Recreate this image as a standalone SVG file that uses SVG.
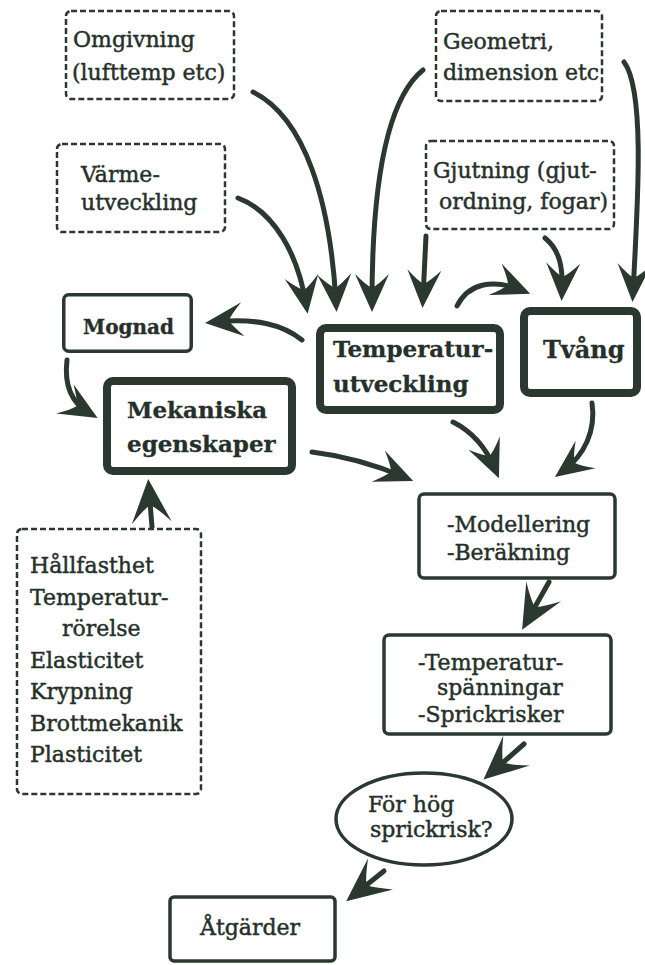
<svg xmlns="http://www.w3.org/2000/svg" width="645" height="965" viewBox="0 0 645 965">
<defs>
<style>
.t{font-family:"DejaVu Serif","Liberation Serif",serif;fill:#26302a;font-size:22px;stroke:#26302a;stroke-width:0.45}
.b{font-weight:bold;stroke-width:0.3}
.dash{fill:#fff;stroke:#2b3830;stroke-width:2.5;stroke-dasharray:6 3}
.thin{fill:#fff;stroke:#2b3830;stroke-width:3.5}
.thick{fill:#fff;stroke:#2b3830;stroke-width:8}
.c{fill:none;stroke:#2b3830;stroke-width:5;stroke-linecap:round;marker-end:url(#ah)}
.c2{fill:none;stroke:#2b3830;stroke-width:5;stroke-linecap:round;marker-end:url(#ah2)}
</style>
<marker id="ah" viewBox="-32 -20 44 40" markerWidth="44" markerHeight="40" refX="0" refY="0" markerUnits="userSpaceOnUse" orient="auto">
<path d="M10,0 L-28,-17 Q-17,-6 -14,0 Q-17,6 -28,17 Z" fill="#2b3830"/>
</marker>
<marker id="ah2" viewBox="-38 -24 50 48" markerWidth="50" markerHeight="48" refX="0" refY="0" markerUnits="userSpaceOnUse" orient="auto">
<path d="M10,0 L-34,-20 Q-20,-7 -16,0 Q-20,7 -34,20 Z" fill="#2b3830"/>
</marker>
</defs>
<rect width="645" height="965" fill="#fff"/>
<g id="connectors">
<path class="c" d="M253,92 C305,118 330,200 336,302"/>
<path class="c" d="M238,198 C275,212 298,255 306,304"/>
<path class="c" d="M423,70 C392,95 372,165 372,302"/>
<path class="c" d="M426,236 L423,298"/>
<path class="c" d="M457,306 C468,284 492,278 521,290"/>
<path class="c" d="M545,238 C560,250 563,268 562,291"/>
<path class="c" d="M624,62 C645,90 638,200 633,292"/>
<path class="c" d="M302,340 C282,324 255,318 215,322"/>
<path class="c" d="M67,360 C64,385 72,403 89,413"/>
<path class="c" d="M453,422 C473,432 487,450 495,469"/>
<path class="c" d="M592,403 C596,430 585,455 563,471"/>
<path class="c" d="M312,452 C345,456 378,466 404,477"/>
<path class="c2" d="M152,527 L149,489"/>
<path class="c2" d="M549,582 L527,621"/>
<path class="c2" d="M524,744 L491,773"/>
<path class="c2" d="M384,871 L354,895"/>
</g>
<g id="omgivning"><rect class="dash" x="66" y="11" width="168" height="88" rx="5"/>
<text class="t" x="73" y="47">Omgivning</text><text class="t" x="72" y="80">(lufttemp etc)</text></g>
<g id="varme"><rect class="dash" x="57" y="144" width="168" height="88" rx="5"/>
<text class="t" x="81" y="182">Värme-</text><text class="t" x="81" y="210">utveckling</text></g>
<g id="geometri"><rect class="dash" x="436" y="11" width="166" height="90" rx="5"/>
<text class="t" x="443" y="49">Geometri,</text><text class="t" x="443" y="80">dimension etc</text></g>
<g id="gjutning"><rect class="dash" x="426" y="141" width="188" height="88" rx="5"/>
<text class="t" x="433" y="178">Gjutning (gjut-</text><text class="t" x="439" y="209">ordning, fogar)</text></g>
<g id="mognad"><rect class="thin" x="63.75" y="294.75" width="127.5" height="56.5" rx="5"/>
<text class="t b" x="83" y="334" style="font-size:20px">Mognad</text></g>
<g id="temperatur"><rect class="thick" x="320" y="328" width="180" height="82" rx="6"/>
<text class="t b" x="333" y="357" style="font-size:23px">Temperatur-</text><text class="t b" x="333" y="392" style="font-size:23px">utveckling</text></g>
<g id="tvang"><rect class="thick" x="524" y="311" width="113" height="82" rx="6"/>
<text class="t b" x="543" y="358" style="font-size:24px">Tvång</text></g>
<g id="mekaniska"><rect class="thick" x="107" y="381" width="185" height="90" rx="6"/>
<text class="t b" x="127" y="418" style="font-size:23px">Mekaniska</text><text class="t b" x="127" y="452" style="font-size:23px">egenskaper</text></g>
<g id="egenskaper-lista"><rect class="dash" x="17" y="529" width="184" height="265" rx="5"/>
<text class="t" x="30" y="573">Hållfasthet</text>
<text class="t" x="30" y="604.5">Temperatur-</text>
<text class="t" x="62" y="636">rörelse</text>
<text class="t" x="30" y="667.5">Elasticitet</text>
<text class="t" x="30" y="699">Krypning</text>
<text class="t" x="30" y="730.5">Brottmekanik</text>
<text class="t" x="30" y="762">Plasticitet</text></g>
<g id="modellering"><rect class="thin" x="419" y="494" width="196" height="84" rx="5"/>
<text class="t" x="447" y="532">-Modellering</text><text class="t" x="447" y="560">-Beräkning</text></g>
<g id="spanningar"><rect class="thin" x="384" y="635" width="227" height="99" rx="5"/>
<text class="t" x="418" y="670">-Temperatur-</text><text class="t" x="437" y="695">spänningar</text><text class="t" x="418" y="722">-Sprickrisker</text></g>
<g id="sprickrisk"><ellipse cx="424" cy="819" rx="88" ry="46" fill="#fff" stroke="#2b3830" stroke-width="3.5"/>
<text class="t" x="368" y="812">För hög</text><text class="t" x="370" y="837">sprickrisk?</text></g>
<g id="atgarder"><rect class="thin" x="170" y="897" width="165" height="64" rx="4"/>
<text class="t" x="200" y="935">Åtgärder</text></g>
</svg>
